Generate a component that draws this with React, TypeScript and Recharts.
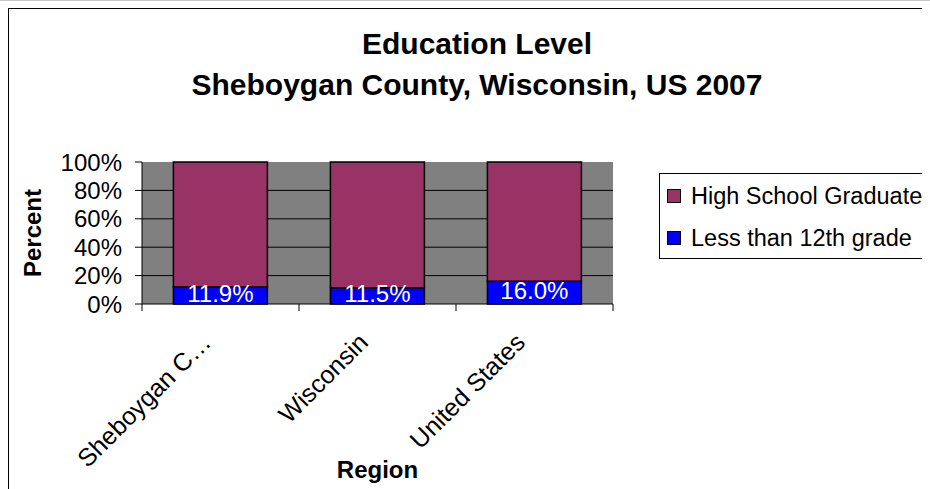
import React from 'react';
import {
    BarChart,
    Bar,
    XAxis,
    YAxis,
    CartesianGrid,
    Legend,
    LabelList,
} from 'recharts';

const regions = ['Sheboygan C…', 'Wisconsin', 'United States'];
const highSchoolGrad = [88.1, 88.5, 84.0];
const lessThan12th = [11.9, 11.5, 16.0];
const percentTicks = [0, 20, 40, 60, 80, 100];

const FONT = '"Liberation Sans", Arial, sans-serif';
const PURPLE = '#993366';
const BLUE = '#0000FF';

const data = regions.map((name, i) => ({
    name,
    hs: highSchoolGrad[i],
    less: lessThan12th[i],
}));

const legendItems = [
    { label: 'High School Graduate', color: PURPLE },
    { label: 'Less than 12th grade', color: BLUE },
];

// category label plus the Excel-style tick marks on the band edges
const RegionTick = (props: any) => {
    const { x, y, payload, index, width, visibleTicksCount } = props;
    const count = visibleTicksCount || regions.length;
    const half = width / count / 2;
    const ax = x - 8;
    const ay = y + 40;
    return (
        <g>
            <line x1={x - half} x2={x - half} y1={y} y2={y + 7} stroke="#000" />
            {index === count - 1 && <line x1={x + half} x2={x + half} y1={y} y2={y + 7} stroke="#000" />}
            <text
                x={ax}
                y={ay}
                textAnchor="end"
                fontSize={25}
                fontFamily={FONT}
                fill="#000"
                transform={`rotate(-45, ${ax}, ${ay})`}
            >
                {payload.value}
            </text>
        </g>
    );
};

const LegendBox = () => (
    <div
        style={{
            border: '1px solid #000',
            borderRight: 'none',
            height: 86,
            boxSizing: 'border-box',
            paddingLeft: 7,
            paddingTop: 1,
            fontFamily: FONT,
            fontSize: 23.5,
            color: '#000',
            background: '#fff',
        }}
    >
        {legendItems.map((it) => (
            <div key={it.label} style={{ display: 'flex', alignItems: 'center', height: 42, whiteSpace: 'nowrap' }}>
                <span
                    style={{
                        display: 'inline-block',
                        width: 14,
                        height: 14,
                        background: it.color,
                        border: '1px solid #000',
                        marginRight: 10,
                        boxSizing: 'border-box',
                    }}
                />
                {it.label}
            </div>
        ))}
    </div>
);

export default function App() {
    return (
        <div style={{ position: 'relative' }}>
            <div style={{ position: 'fixed', left: 0, top: 0, width: '100%', height: 1, background: '#c8c8c8' }} />
            <div
                style={{
                    position: 'relative',
                    width: 922,
                    height: 481,
                    borderTop: '1px solid #000',
                    borderLeft: '1px solid #000',
                    boxSizing: 'border-box',
                    overflow: 'hidden',
                    background: '#fff',
                }}
            >
                <div
                    style={{
                        position: 'absolute',
                        left: 0,
                        top: 14,
                        width: 936,
                        textAlign: 'center',
                        fontFamily: FONT,
                        fontWeight: 'bold',
                        fontSize: 30,
                        lineHeight: '41px',
                        color: '#000',
                        whiteSpace: 'nowrap',
                    }}
                >
                    <div>Education Level</div>
                    <div>Sheboygan County, Wisconsin, US 2007</div>
                </div>
                <BarChart
                    width={921}
                    height={480}
                    data={data}
                    margin={{ top: 153, right: 317, left: 73, bottom: 125 }}
                    barCategoryGap="20%"
                    style={{ fontFamily: FONT }}
                >
                    <CartesianGrid
                        vertical={false}
                        horizontalValues={[20, 40, 60, 80]}
                        stroke="#000"
                        fill="#808080"
                        fillOpacity={1}
                    />
                    <XAxis
                        dataKey="name"
                        height={60}
                        tickSize={0}
                        tickMargin={0}
                        tickLine={false}
                        axisLine={{ stroke: '#000' }}
                        tick={<RegionTick />}
                        interval={0}
                        label={{
                            content: (p: any) => {
                                const vb = p.viewBox;
                                return (
                                    <text
                                        x={vb.x + vb.width / 2}
                                        y={vb.y + 174}
                                        textAnchor="middle"
                                        fontSize={24}
                                        fontWeight="bold"
                                        fontFamily={FONT}
                                        fill="#000"
                                    >
                                        Region
                                    </text>
                                );
                            },
                        }}
                    />
                    <YAxis
                        width={60}
                        domain={[0, 100]}
                        ticks={percentTicks}
                        interval={0}
                        tickFormatter={(v: number) => `${v}%`}
                        tick={{ fill: '#000', fontSize: 24, fontFamily: FONT }}
                        tickSize={7}
                        tickMargin={13}
                        axisLine={{ stroke: '#000' }}
                        tickLine={{ stroke: '#000' }}
                        label={{
                            content: (p: any) => {
                                const vb = p.viewBox;
                                const cx = vb.x - 50;
                                const cy = vb.y + vb.height / 2;
                                return (
                                    <text
                                        x={cx}
                                        y={cy}
                                        textAnchor="middle"
                                        dominantBaseline="central"
                                        fontSize={24}
                                        fontWeight="bold"
                                        fontFamily={FONT}
                                        fill="#000"
                                        transform={`rotate(-90, ${cx}, ${cy})`}
                                    >
                                        Percent
                                    </text>
                                );
                            },
                        }}
                    />
                    <Legend
                        layout="vertical"
                        align="center"
                        verticalAlign="middle"
                        content={<LegendBox />}
                        wrapperStyle={{ left: 650, top: 164, width: 290, height: 86 }}
                    />
                    <Bar
                        dataKey="less"
                        name="Less than 12th grade"
                        stackId="a"
                        fill={BLUE}
                        stroke="#000"
                        strokeWidth={1.5}
                        isAnimationActive={false}
                    >
                        <LabelList
                            dataKey="less"
                            position="center"
                            fill="#fff"
                            fontSize={24}
                            fontFamily={FONT}
                            dy={-2}
                            formatter={(v: any) => `${Number(v).toFixed(1)}%`}
                        />
                    </Bar>
                    <Bar
                        dataKey="hs"
                        name="High School Graduate"
                        stackId="a"
                        fill={PURPLE}
                        stroke="#000"
                        strokeWidth={1.5}
                        isAnimationActive={false}
                    />
                </BarChart>
            </div>
        </div>
    );
}
